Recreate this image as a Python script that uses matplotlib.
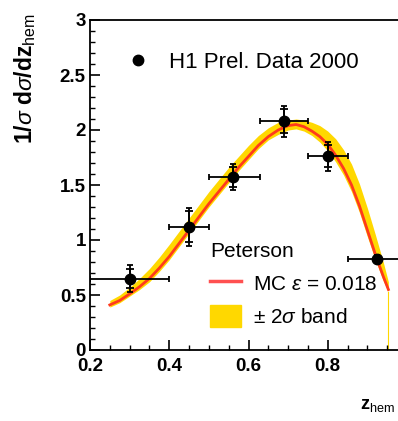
import numpy as np
import matplotlib
matplotlib.use('Agg')
from matplotlib import pyplot as plt
from matplotlib.lines import Line2D
from matplotlib.patches import Patch

plt.rcParams['font.family'] = ['Liberation Sans', 'DejaVu Sans']
plt.rcParams['mathtext.fontset'] = 'custom'
plt.rcParams['mathtext.rm'] = 'Liberation Sans'
plt.rcParams['mathtext.it'] = 'Liberation Sans:italic'
plt.rcParams['mathtext.bf'] = 'Liberation Sans:bold'

# H1 data points
z_data = [0.30, 0.45, 0.56, 0.69, 0.80, 0.925]
z_lo = [0.20, 0.40, 0.50, 0.63, 0.75, 0.85]
z_hi = [0.40, 0.50, 0.63, 0.75, 0.85, 1.00]
val = [0.65, 1.12, 1.57, 2.08, 1.76, 0.83]
err_tot = [0.12, 0.17, 0.12, 0.14, 0.13, 0.03]
err_stat = [0.09, 0.14, 0.09, 0.11, 0.10, 0.02]

# Peterson MC curve and +-2 sigma band
z_mc = [0.25, 0.275, 0.30, 0.325, 0.35, 0.375, 0.40, 0.425, 0.45, 0.475,
        0.50, 0.525, 0.55, 0.575, 0.60, 0.625, 0.65, 0.675, 0.70, 0.72,
        0.74, 0.76, 0.78, 0.80, 0.82, 0.84, 0.86, 0.88, 0.90, 0.92, 0.94, 0.953]
mc = [0.41, 0.45, 0.51, 0.575, 0.65, 0.745, 0.85, 0.97, 1.09, 1.21,
      1.33, 1.44, 1.55, 1.66, 1.76, 1.86, 1.94, 2.00, 2.04, 2.05,
      2.03, 1.99, 1.94, 1.87, 1.77, 1.65, 1.50, 1.31, 1.09, 0.87, 0.67, 0.55]
band_lo = [0.39, 0.43, 0.49, 0.55, 0.62, 0.715, 0.82, 0.94, 1.06, 1.18,
           1.30, 1.41, 1.52, 1.63, 1.73, 1.83, 1.91, 1.96, 2.00, 2.01,
           1.99, 1.95, 1.89, 1.81, 1.71, 1.59, 1.44, 1.25, 1.03, 0.82, 0.63, 0.53]
band_hi = [0.45, 0.50, 0.57, 0.65, 0.74, 0.845, 0.96, 1.08, 1.20, 1.32,
           1.44, 1.55, 1.66, 1.76, 1.86, 1.95, 2.02, 2.07, 2.09, 2.10,
           2.09, 2.07, 2.04, 1.99, 1.92, 1.82, 1.69, 1.51, 1.29, 1.05, 0.80, 0.62]

red = '#ff3a1c'
yellow = '#ffd800'

fig = plt.figure(figsize=(3.98, 4.21), dpi=100)
ax = fig.add_axes([90/398, 1-350/421, 317/398, 330/421])

ax.fill_between(z_mc, band_lo, band_hi, color=yellow, lw=0, zorder=1)
ax.plot([z_mc[-1], z_mc[-1]], [0, band_lo[-1]], color=yellow, lw=0.8, zorder=1)
ax.plot(z_mc, mc, color=red, lw=2, zorder=2)

x = np.array(z_data)
xerr = [x - np.array(z_lo), np.array(z_hi) - x]
ax.errorbar(z_data, val, xerr=xerr, yerr=err_tot, fmt='o', color='black',
            ms=7.5, lw=1.3, capsize=2.5, capthick=1.3, zorder=3)
ax.errorbar(z_data, val, yerr=err_stat, fmt='none', ecolor='black',
            lw=1.3, capsize=3, capthick=1.3, zorder=3)

ax.set_xlim(0.2, 1.0)
ax.set_ylim(0, 3)
ax.set_xticks([0.2, 0.4, 0.6, 0.8])
ax.set_xticklabels(['0.2', '0.4', '0.6', '0.8'])
ax.set_xticks(np.arange(0.2, 1.0, 0.05), minor=True)
ax.set_yticks([0, 0.5, 1, 1.5, 2, 2.5, 3])
ax.set_yticklabels(['0', '0.5', '1', '1.5', '2', '2.5', '3'])
ax.set_yticks(np.arange(0, 3.0, 0.1), minor=True)
ax.tick_params(which='both', direction='in', top=False, right=False)
ax.tick_params(which='major', length=7.5, width=1.2, labelsize=13.5)
ax.tick_params(axis='x', which='major', pad=6)
ax.tick_params(axis='y', which='major', pad=3)
ax.tick_params(which='minor', length=3.8, width=1.0)
for lab in ax.get_xticklabels() + ax.get_yticklabels():
    lab.set_fontweight('bold')
for s in ax.spines.values():
    s.set_linewidth(1.3)

leg1 = ax.legend(handles=[Line2D([], [], marker='o', color='black', ls='none', ms=7.5)],
                 labels=['H1 Prel. Data 2000'], loc='upper left',
                 bbox_to_anchor=(0.117, 0.903), frameon=False, fontsize=16,
                 borderpad=0, borderaxespad=0,
                 handlelength=1.0, handletextpad=0.9)
ax.add_artist(leg1)
leg2 = ax.legend(handles=[Line2D([], [], color='#ff5050', lw=2.5), Patch(color=yellow)],
                 labels=[r'MC $\varepsilon$ = 0.018', r'$\pm$ 2$\sigma$ band'],
                 title='Peterson', loc='upper left', alignment='left',
                 bbox_to_anchor=(0.379, 0.327), frameon=False, fontsize=15,
                 title_fontsize=15, borderpad=0, borderaxespad=0,
                 handlelength=1.5, handleheight=1.3,
                 handletextpad=0.55, labelspacing=0.5)

fig.text(25/398, 1-13/421, r'1/$\sigma$ d$\sigma$/dz$_{\rm hem}$', rotation=90,
         ha='center', va='top', fontsize=16.5, fontweight='bold')
fig.text(360/398, 1-405/421, r'z$_{\rm hem}$', ha='left', va='center',
         fontsize=13, fontweight='bold')

plt.savefig('out.png', dpi=100)
